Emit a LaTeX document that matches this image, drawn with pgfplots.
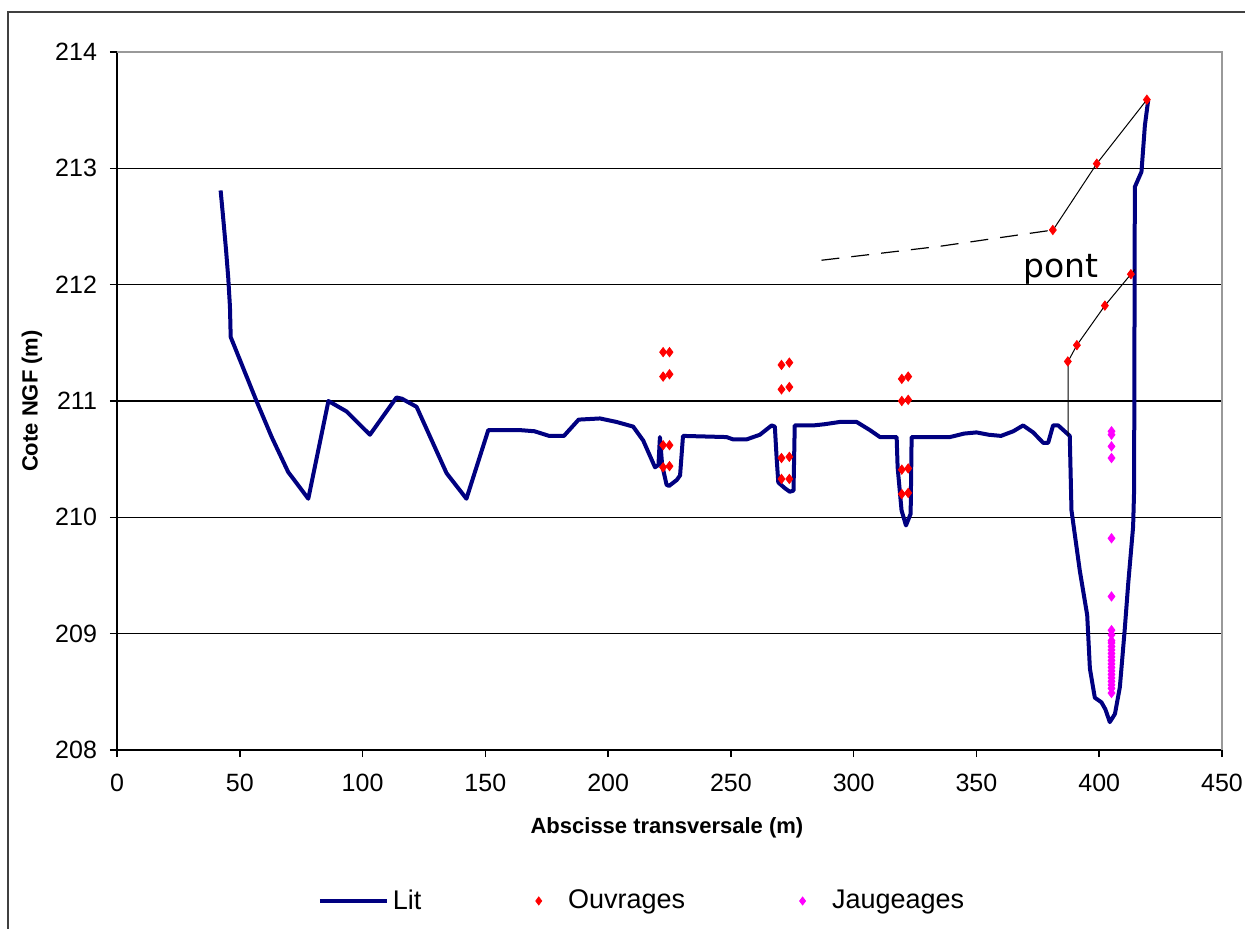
\documentclass[border=0pt]{standalone}
\usepackage{fontspec}
\setmainfont{Liberation Sans}
\newfontfamily\pontfont{DejaVu Sans}
\usepackage{pgfplots}
\pgfplotsset{compat=1.18}
\definecolor{litblue}{RGB}{0,0,128}
\definecolor{jaug}{RGB}{255,0,255}
\pgfplotsset{
  litleg/.style={legend image code/.code={\draw[##1] (0pt,0pt) -- (33.5pt,0pt);}},
  markleg/.style={legend image code/.code={\path (0pt,0pt) (25pt,0pt); \draw[##1, mark size=2pt] plot coordinates {(12.5pt,0pt)};}},
}
\begin{document}
\begin{tikzpicture}
\begin{axis}[
  at={(0,0)}, anchor=south west,
  scale only axis, width=552.5pt, height=349pt,
  xmin=0, xmax=450, ymin=208, ymax=214,
  xtick={0,50,...,450}, ytick={208,209,...,214},
  axis lines=left, axis line style={-, black, line width=0.8pt},
  tick align=outside, major tick length=3.5pt,
  tick style={black, line width=0.8pt},
  ymajorgrids, grid style={black, line width=0.7pt},
  /pgf/number format/assume math mode=true,
  /pgf/number format/1000 sep={},
  ticklabel style={font=\fontsize{12.5}{15}\selectfont},
  xticklabel style={yshift=-5pt},
  yticklabel style={xshift=-3pt},
  xlabel={Abscisse transversale (m)},
  ylabel={Cote NGF (m)},
  xlabel style={font=\fontsize{11}{13}\selectfont\bfseries, at={(axis description cs:0.4977,-0.1117)}, anchor=center},
  ylabel style={font=\fontsize{11}{13}\selectfont\bfseries, at={(axis description cs:-0.0769,0.5)}, anchor=center},
  legend style={draw=none, fill=none, at={(axis description cs:0.476,-0.2163)}, anchor=center,
    font=\fontsize{13.5}{16}\selectfont, legend columns=3,
    /tikz/every even column/.append style={column sep=44pt}},
  clip=false,
]
% Lit
\addplot[litblue, line width=2pt, line join=round, litleg] coordinates {
(42.2,212.81) (43.3,212.56) (44.4,212.30) (45.3,212.06) (46.0,211.81) (46.3,211.55)
(56.8,211.00) (63.0,210.69) (69.7,210.39) (77.9,210.16) (86.1,211.00) (93.5,210.91)
(103.0,210.71) (113.8,211.03) (116,211.02) (122.0,210.95) (134.2,210.38) (142.3,210.16)
(151.2,210.75) (164,210.75) (170,210.74) (176,210.70) (182,210.70) (188,210.84)
(196.7,210.85) (203.4,210.82) (210.2,210.78) (214.3,210.66) (219.1,210.43) (220.5,210.45)
(221.1,210.69) (222.0,210.45) (223.8,210.28) (224.8,210.27) (227.9,210.32) (229.3,210.36)
(230.5,210.70) (248.2,210.69) (250.9,210.67) (256.4,210.67) (261.8,210.71) (266.6,210.79)
(267.9,210.78) (268.6,210.52) (269.3,210.30) (272.0,210.25) (274.0,210.22) (275.5,210.23)
(276.0,210.79) (283.5,210.79) (288,210.80) (294.4,210.82) (301.2,210.82) (306.6,210.75)
(310.7,210.69) (317.5,210.69) (317.9,210.43) (319.5,210.06) (321.3,209.93) (323.2,210.03)
(323.6,210.69) (339.2,210.69) (345,210.72) (350,210.73) (355,210.71) (360,210.70)
(365,210.74) (369.0,210.79) (373.1,210.73) (377.2,210.64) (379.2,210.64) (381.2,210.79)
(383.3,210.79) (388.0,210.70) (388.7,210.06) (392.1,209.54) (395.1,209.16) (396.2,208.70)
(398.2,208.45) (400.9,208.41) (402.5,208.35) (404.3,208.24) (406.4,208.31) (408.4,208.54)
(410.4,209.04) (411.8,209.43) (413.8,209.92) (414.2,210.23) (414.5,212.84) (417.2,212.97)
(418.6,213.37) (419.9,213.58)
};
\addlegendentry{Lit}
% Ouvrages
\addplot[only marks, mark=diamond*, mark size=2.3pt, red, mark options={fill=red, draw=red}, markleg] coordinates {
(222.4,211.42) (225.0,211.42) (222.4,211.21) (225.0,211.23) (222.4,210.62) (225.0,210.62) (222.4,210.43) (225.0,210.44)
(270.6,211.31) (273.8,211.33) (270.6,211.10) (273.8,211.12) (270.6,210.51) (273.8,210.52) (270.6,210.33) (273.8,210.33)
(319.6,211.19) (322.2,211.21) (319.6,211.00) (322.2,211.01) (319.6,210.41) (322.2,210.42) (319.6,210.20) (322.2,210.21)
(387.2,211.34) (390.9,211.48) (402.3,211.82) (412.9,212.09)
(381.1,212.47) (399.0,213.04) (419.4,213.59)
};
\addlegendentry{Ouvrages}
% Jaugeages
\addplot[only marks, mark=diamond*, mark size=2.3pt, jaug, mark options={fill=jaug, draw=jaug}, markleg] coordinates {
(405.0,210.74) (405.0,210.71) (405.0,210.61) (405.0,210.51) (405.0,209.82) (405.0,209.32)
(405.0,209.03) (405.0,208.99) (405.0,208.94) (405.0,208.92) (405.0,208.89) (405.0,208.86)
(405.0,208.83) (405.0,208.80) (405.0,208.77) (405.0,208.74) (405.0,208.71) (405.0,208.68)
(405.0,208.65) (405.0,208.62) (405.0,208.59) (405.0,208.56) (405.0,208.53) (405.0,208.49)
};
\addlegendentry{Jaugeages}
% pont lines
\addplot[black, line width=0.5pt, forget plot] coordinates {
(387.3,210.70) (387.3,211.34) (390.9,211.48) (402.3,211.82) (412.9,212.09) (414.5,212.13)
};
\addplot[black, line width=0.6pt, dash pattern=on 9pt off 6pt, forget plot] coordinates {
(286.9,212.21) (335.1,212.33) (381.2,212.47)
};
\addplot[black, line width=0.5pt, forget plot] coordinates {
(381.2,212.47) (399.0,213.04) (419.4,213.59)
};
\node[anchor=base, font=\pontfont\fontsize{16.5}{18}\selectfont, inner sep=0pt] at (axis cs:384.4,212.065) {pont};
\draw[black!40, line width=0.9pt] (rel axis cs:0,1) -- (rel axis cs:1,1) -- (rel axis cs:1,0);
\end{axis}
\draw[black!75, line width=1.2pt] (-54.5pt,-120pt) -- (-54.5pt,369pt) -- (640pt,369pt);
\pgfresetboundingbox
\path[use as bounding box] (-58.5pt,-89pt) rectangle (564pt,375pt);
\end{tikzpicture}
\end{document}
